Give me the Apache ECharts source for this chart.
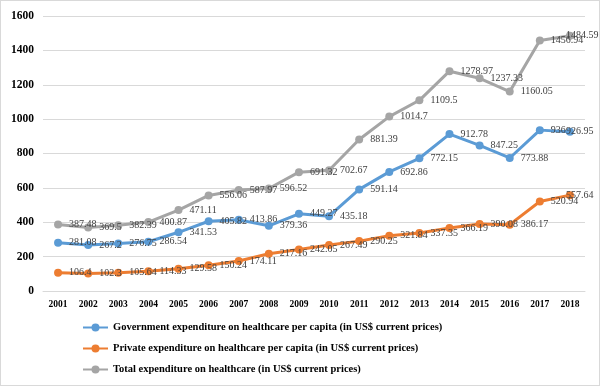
<!DOCTYPE html>
<html><head><meta charset="utf-8">
<script src="https://cdn.jsdelivr.net/npm/echarts@6/dist/echarts.min.js"></script>
<style>html,body{margin:0;padding:0;background:#fff}#c{width:598px;height:384px;border:1px solid #d9d9d9}</style>
</head><body><div id="c"></div>
<script>
const years = ['2001','2002','2003','2004','2005','2006','2007','2008','2009','2010','2011','2012','2013','2014','2015','2016','2017','2018'];
const government = [281.08,267.2,276.75,286.54,341.53,405.82,413.86,379.36,449.27,435.18,591.14,692.86,772.15,912.78,847.25,773.88,936,926.95];
const privateExp = [106.4,102.3,105.64,114.33,129.58,150.24,174.11,217.16,242.05,267.49,290.25,321.84,337.35,366.19,390.08,386.17,520.94,557.64];
const total = [387.48,369.5,382.39,400.87,471.11,556.06,587.97,596.52,691.32,702.67,881.39,1014.7,1109.5,1278.97,1237.33,1160.05,1456.94,1484.59];
const yTicks = [0,200,400,600,800,1000,1200,1400,1600];
const names = ['Government expenditure on healthcare per capita (in US$ current prices)','Private expenditure on healthcare per capita (in US$ current prices)','Total expenditure on healthcare (in US$ current prices)'];
const colors = ['#5B9BD5','#ED7D31','#A5A5A5'];
const font = '"Liberation Serif","Times New Roman",serif';
const chart = echarts.init(document.getElementById('c'));
function mk(name, values, color){
  const data = values.map((v,i)=> i===values.length-1 ? {value:v, label:{offset:[-15,0]}} : v);
  return {name, type:'line', data, symbol:'circle', symbolSize:8, color,
    lineStyle:{width:3,color}, itemStyle:{color},
    label:{show:true, position:'right', distance:7, fontFamily:font, fontSize:10, color:'#404040'}};
}
chart.setOption({
  animation:false,
  grid:{left:42,right:14,top:15,bottom:94},
  xAxis:{type:'category', data:years, boundaryGap:true,
    axisLine:{lineStyle:{color:'#d9d9d9'}}, axisTick:{show:false},
    axisLabel:{fontFamily:font, fontWeight:'bold', fontSize:9.5, color:'#000', margin:9}},
  yAxis:{type:'value', min:yTicks[0], max:yTicks[yTicks.length-1], interval:yTicks[1]-yTicks[0],
    axisLine:{show:false}, axisTick:{show:false},
    splitLine:{lineStyle:{color:'#d9d9d9'}},
    axisLabel:{fontFamily:font, fontWeight:'bold', fontSize:11.5, color:'#000', margin:9, formatter:v=>String(v)}},
  legend:{orient:'vertical', left:76, top:316, itemGap:10, itemWidth:25, itemHeight:10,
    textStyle:{fontFamily:font, fontWeight:'bold', fontSize:10.5, color:'#000'}, data:names},
  series:[mk(names[0],government,colors[0]), mk(names[1],privateExp,colors[1]), mk(names[2],total,colors[2])]
});
</script></body></html>
